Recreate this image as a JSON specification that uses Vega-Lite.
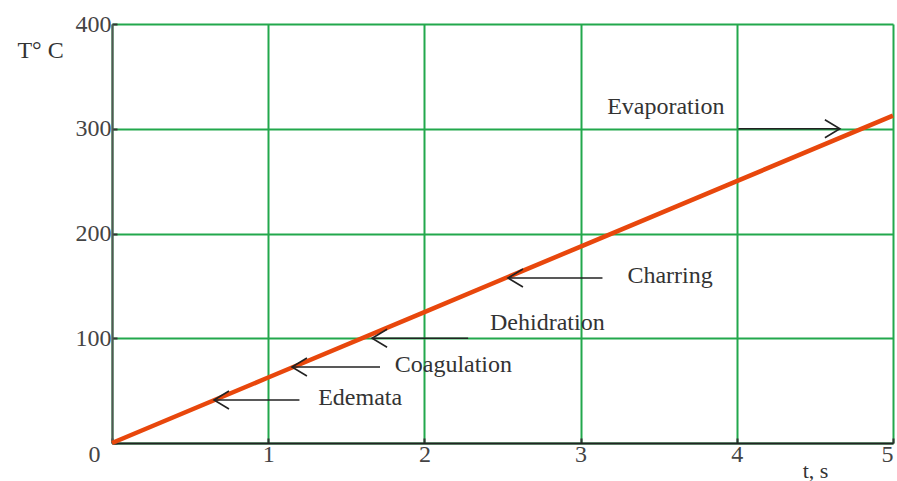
{
  "$schema": "https://vega.github.io/schema/vega-lite/v6.json",
  "width": 781,
  "height": 419,
  "autosize": {"type": "none"},
  "padding": {"left": 112, "top": 24, "right": 4, "bottom": 38},
  "background": "white",
  "datasets": {
    "curve": [
      {"t": 0, "T": 0},
      {"t": 1, "T": 62.5},
      {"t": 2, "T": 125},
      {"t": 3, "T": 187.5},
      {"t": 4, "T": 250},
      {"t": 5, "T": 312.5}
    ],
    "arrows": [
      {"name": "Evaporation", "t1": 4.01, "t2": 4.66, "T": 300, "tip": 4.66, "dir": "right", "lt": 3.17, "lT": 321},
      {"name": "Charring", "t1": 2.535, "t2": 3.14, "T": 157.5, "tip": 2.535, "dir": "left", "lt": 3.3, "lT": 159},
      {"name": "Dehidration", "t1": 1.665, "t2": 2.28, "T": 100, "tip": 1.665, "dir": "left", "lt": 2.42, "lT": 114.5},
      {"name": "Coagulation", "t1": 1.152, "t2": 1.716, "T": 72.5, "tip": 1.152, "dir": "left", "lt": 1.81, "lT": 74.5},
      {"name": "Edemata", "t1": 0.653, "t2": 1.2, "T": 41, "tip": 0.653, "dir": "left", "lt": 1.32, "lT": 43}
    ]
  },
  "layer": [
    {
      "data": {"name": "curve"},
      "mark": {"type": "line", "color": "#e8470c", "strokeWidth": 4.5},
      "encoding": {
        "x": {
          "field": "t", "type": "quantitative",
          "scale": {"domain": [0, 5], "nice": false, "zero": false},
          "axis": {
            "values": [0, 1, 2, 3, 4, 5],
            "format": "d",
            "title": "t, s",
            "titleX": 703, "titleY": 27, "titleAlign": "center", "titleBaseline": "middle",
            "titleFont": "Liberation Serif", "titleFontSize": 22, "titleFontWeight": "normal", "titleColor": "#333",
            "labelAlign": {"condition": {"test": "datum.value == 0 || datum.value == 5", "value": "right"}, "value": "center"},
            "labelOffset": {"condition": {"test": "datum.value == 0", "value": -12}, "value": 0},
            "labelPadding": 4,
            "labelBound": false,
            "domainColor": "#222", "domainWidth": 2
          }
        },
        "y": {
          "field": "T", "type": "quantitative",
          "scale": {"domain": [0, 400], "nice": false},
          "axis": {
            "values": [0, 100, 200, 300, 400],
            "format": "d",
            "title": "T° C",
            "titleAngle": 0, "titleX": -72, "titleY": 26, "titleAlign": "center", "titleBaseline": "middle",
            "titleFont": "Liberation Serif", "titleFontSize": 24, "titleFontWeight": "normal", "titleColor": "#333",
            "labelExpr": "datum.value == 0 ? '' : datum.label",
            "labelPadding": 6,
            "domainColor": "#555", "domainWidth": 2
          }
        }
      }
    },
    {
      "data": {"name": "arrows"},
      "mark": {"type": "rule", "color": "#222", "strokeWidth": 1.6},
      "encoding": {
        "x": {"field": "t1", "type": "quantitative"},
        "x2": {"field": "t2"},
        "y": {"field": "T", "type": "quantitative"}
      }
    },
    {
      "data": {"name": "arrows"},
      "mark": {"type": "point", "filled": false, "stroke": "#222", "strokeWidth": 1.6, "size": 400, "opacity": 1},
      "encoding": {
        "x": {"field": "tip", "type": "quantitative"},
        "y": {"field": "T", "type": "quantitative"},
        "shape": {
          "field": "dir", "type": "nominal", "legend": null,
          "scale": {"domain": ["left", "right"], "range": ["M1.5,-0.9L0,0L1.5,0.9", "M-1.5,-0.9L0,0L-1.5,0.9"]}
        }
      }
    },
    {
      "data": {"name": "arrows"},
      "mark": {"type": "text", "align": "left", "baseline": "middle", "font": "Liberation Serif", "fontSize": 24, "color": "#333"},
      "encoding": {
        "x": {"field": "lt", "type": "quantitative"},
        "y": {"field": "lT", "type": "quantitative"},
        "text": {"field": "name"}
      }
    }
  ],
  "config": {
    "view": {"stroke": null},
    "axis": {
      "grid": true,
      "gridColor": "#22a84c",
      "gridWidth": 2,
      "gridOpacity": 1,
      "ticks": true,
      "tickSize": -5,
      "tickColor": "#333",
      "tickWidth": 2,
      "labelFont": "Liberation Serif",
      "labelFontSize": 24,
      "labelColor": "#444"
    }
  }
}
